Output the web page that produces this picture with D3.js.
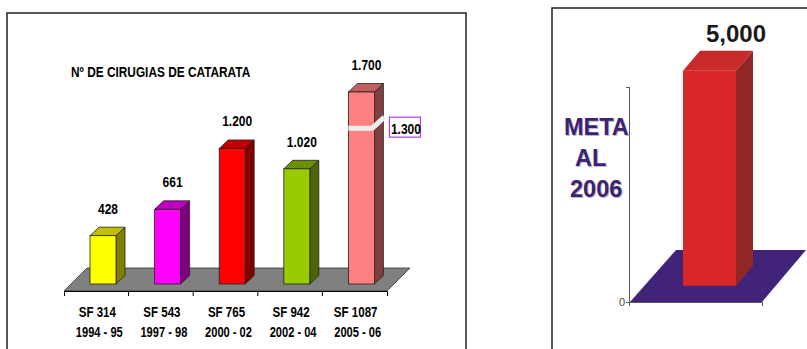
<!DOCTYPE html>
<html>
<head>
<meta charset="utf-8">
<script src="https://cdn.jsdelivr.net/npm/d3@7"></script>
<style>
	body { margin: 0; background: #fff; }
	svg { display: block; font-family: 'Liberation Sans', Arial, sans-serif; }
	.meta { text-shadow: 1px 1px 0 #b8b8c8; }
</style>
</head>
<body>
<svg id="chart" width="807" height="349"></svg>
<script>
// left chart data
const sfCodes = ['SF 314', 'SF 543', 'SF 765', 'SF 942', 'SF 1087'];
const periods = ['1994 - 95', '1997 - 98', '2000 - 02', '2002 - 04', '2005 - 06'];
const surgeries = [428, 661, 1200, 1020, 1700];
const surgeryLabels = ['428', '661', '1.200', '1.020', '1.700'];
const breakValue = 1380;
const breakLabel = '1.300';
const chartTitle = 'Nº DE CIRUGIAS DE CATARATA';

// right chart data
const goalCategories = ['2006'];
const goalValues = [5000];
const goalLabels = ['5,000'];
const goalTitle = ['META', 'AL', '2006'];

// bar colours: front, side, top
const palette = [
	['#ffff00', '#808000', '#c0c000'],
	['#ff00ff', '#800080', '#c000c0'],
	['#ff0000', '#800000', '#c00000'],
	['#99cc00', '#4d6600', '#6b9000'],
	['#ff8080', '#804040', '#c06060'],
];

const svg = d3.select('#chart');

// narrow bold text like the original export
function squeezed(g, tx, ty, str, size, factor, anchor) {
	const t = g.append('text').attr('x', tx).attr('y', ty)
		.attr('text-anchor', anchor || 'middle').attr('font-size', size).attr('font-weight', 'bold')
		.text(str);
	const len = t.node().getComputedTextLength();
	t.attr('textLength', len * factor).attr('lengthAdjust', 'spacingAndGlyphs');
	return t;
}

// panel borders
svg.append('rect').attr('x', 7).attr('y', 13).attr('width', 459).attr('height', 360)
	.attr('fill', 'none').attr('stroke', '#222').attr('stroke-width', 1.5);
svg.append('rect').attr('x', 552).attr('y', 8).attr('width', 300).attr('height', 360)
	.attr('fill', 'none').attr('stroke', '#222').attr('stroke-width', 1.5);

// ---------- left chart ----------
const x = d3.scaleBand().domain(sfCodes).range([64, 387]).paddingInner(0);
const y = d3.scaleLinear().domain([0, 1700]).range([284, 92]);
const axisY = 291;
const floorDx = 23, floorDy = -23;
const barOff = 26, barW = 26, dx = 9, dy = -8.5;

const left = svg.append('g');

left.append('polygon')
	.attr('points', [[64, axisY], [387, axisY], [387 + floorDx, axisY + floorDy], [64 + floorDx, axisY + floorDy]].join(' '))
	.attr('fill', '#808080').attr('stroke', '#333').attr('stroke-width', 0.8);

const xAxis = left.append('g').attr('transform', `translate(0,${axisY})`)
	.call(d3.axisBottom(x).tickSize(0).tickSizeOuter(5).tickFormat(''));
xAxis.select('.domain').attr('stroke', '#000');
xAxis.selectAll('.bound').data(sfCodes.slice(1)).join('line')
	.attr('class', 'bound')
	.attr('x1', (d) => x(d)).attr('x2', (d) => x(d))
	.attr('y1', 0).attr('y2', 5).attr('stroke', '#000');

function bar3d(g, bx, top, bottom, w, ddx, ddy, colors, stroke) {
	g.append('polygon')
		.attr('points', [[bx + w, bottom], [bx + w + ddx, bottom + ddy], [bx + w + ddx, top + ddy], [bx + w, top]].join(' '))
		.attr('fill', colors[1]).attr('stroke', stroke).attr('stroke-width', 0.8);
	g.append('polygon')
		.attr('points', [[bx, top], [bx + ddx, top + ddy], [bx + w + ddx, top + ddy], [bx + w, top]].join(' '))
		.attr('fill', colors[2]).attr('stroke', stroke).attr('stroke-width', 0.8);
	g.append('rect').attr('x', bx).attr('y', top).attr('width', w).attr('height', bottom - top)
		.attr('fill', colors[0]).attr('stroke', stroke).attr('stroke-width', 0.8);
}

surgeries.forEach((v, i) => {
	const bx = x(sfCodes[i]) + barOff;
	bar3d(left.append('g'), bx, y(v), y(0), barW, dx, dy, palette[i], '#222');
	squeezed(left, bx + (barW + dx) / 2 + 0.5, y(v) - 22, surgeryLabels[i], 15, 0.8);
});

// axis break on the last bar
const lastX = x(sfCodes[4]) + barOff;
const yb = y(breakValue);
left.append('path')
	.attr('d', `M${lastX},${yb} H${lastX + barW - 2} L${lastX + barW + dx + 1},${yb - 11}`)
	.attr('fill', 'none').attr('stroke', '#eeeeee').attr('stroke-width', 5);
const bxl = lastX + barW + dx + 6;
left.append('rect').attr('x', bxl).attr('y', yb - 11).attr('width', 31).attr('height', 20)
	.attr('fill', 'none').attr('stroke', '#a020f0').attr('stroke-width', 1);
squeezed(left, bxl + 16.5, yb + 5.5, breakLabel, 15, 0.8);

squeezed(left, 71, 76.5, chartTitle, 15, 0.79, 'start');

sfCodes.forEach((c, i) => {
	const cx = x(c) + x.bandwidth() / 2 + 1;
	squeezed(left, cx, 316.5, c, 15, 0.77);
	squeezed(left, cx + 2, 336.5, periods[i], 15, 0.74);
});

// ---------- right chart ----------
const xr = d3.scaleBand().domain(goalCategories).range([629, 762]);
const yr = d3.scaleLinear().domain([0, 5000]).range([302, 87]);
const right = svg.append('g');

right.append('polygon')
	.attr('points', [[630, yr(0)], [762, yr(0)], [806, yr(0) - 52], [676, yr(0) - 52]].join(' '))
	.attr('fill', '#41247a');

const yAxisR = right.append('g').attr('transform', 'translate(629,0)')
	.call(d3.axisLeft(yr).tickValues([0]).tickSize(3).tickSizeOuter(3).tickPadding(1));
yAxisR.selectAll('path,line').attr('stroke', '#555');
yAxisR.selectAll('text').attr('font-size', 11).attr('fill', '#444').attr('font-family', 'Liberation Sans, Arial, sans-serif');

const xAxisR = right.append('g').attr('transform', `translate(0,${yr(0)})`)
	.call(d3.axisBottom(xr).tickValues([]).tickSizeOuter(4));
xAxisR.select('.domain').attr('stroke', '#555');

const lift = 16.3;
goalValues.forEach((v, i) => {
	const bx = xr(goalCategories[i]) + 54;
	const w = 53;
	bar3d(right.append('g'), bx, yr(v) - lift, yr(0) - lift, w, 17, -20, ['#d92626', '#922626', '#c82a2a'], 'none');
	right.append('text').attr('x', bx + w).attr('y', yr(v) - lift - 29)
		.attr('text-anchor', 'middle').attr('font-size', 24).attr('font-weight', 'bold')
		.attr('fill', '#1a1a1a').text(goalLabels[i]);
});

const metaX = [564, 575, 570];
goalTitle.forEach((t, i) => {
	right.append('text').attr('class', 'meta')
		.attr('x', metaX[i]).attr('y', 135 + i * 31)
		.attr('font-size', 23.5).attr('font-weight', 'bold').attr('fill', '#3d2270')
		.text(t);
});
</script>
</body>
</html>
